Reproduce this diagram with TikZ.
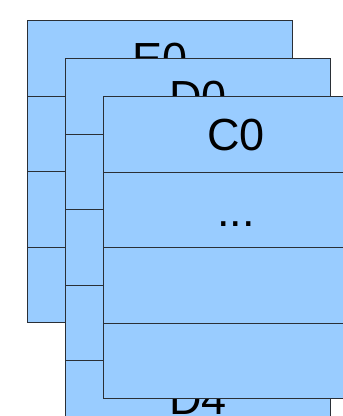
\documentclass[tikz,border=0pt]{standalone}
\usepackage{fontspec}
\setmainfont{Liberation Sans}
\definecolor{cellblue}{HTML}{99CCFF}
\definecolor{cellline}{HTML}{2A2F36}
\begin{document}
\begin{tikzpicture}[x=1pt,y=-1pt,
  cell/.style={rectangle,draw=cellline,line width=0.9pt,fill=cellblue,
    inner sep=0pt,outer sep=0pt,minimum width=265pt,minimum height=75.5pt,
    font=\fontsize{45}{54}\selectfont,text height=32.5pt,text depth=0pt}]
\useasboundingbox (0,0) rectangle (343,416);
\clip (0,0) rectangle (343,416);
% back stack E
\node[cell] (e0) at (160,58.45) {E0};
\node[cell] (e1) at (160,133.95) {};
\node[cell] (e2) at (160,209.45) {};
\node[cell] (e3) at (160,284.95) {};
% middle stack D
\node[cell] (d0) at (198,96.45) {D0};
\node[cell] (d1) at (198,171.95) {};
\node[cell] (d2) at (198,247.45) {};
\node[cell] (d3) at (198,322.95) {};
\node[cell] (d4) at (198,398.45) {D4};
% front stack C
\node[cell] (c0) at (236,134.45) {C0};
\node[cell] (c1) at (236,209.95) {...};
\node[cell] (c2) at (236,285.45) {};
\node[cell] (c3) at (236,360.95) {};
\end{tikzpicture}
\end{document}
